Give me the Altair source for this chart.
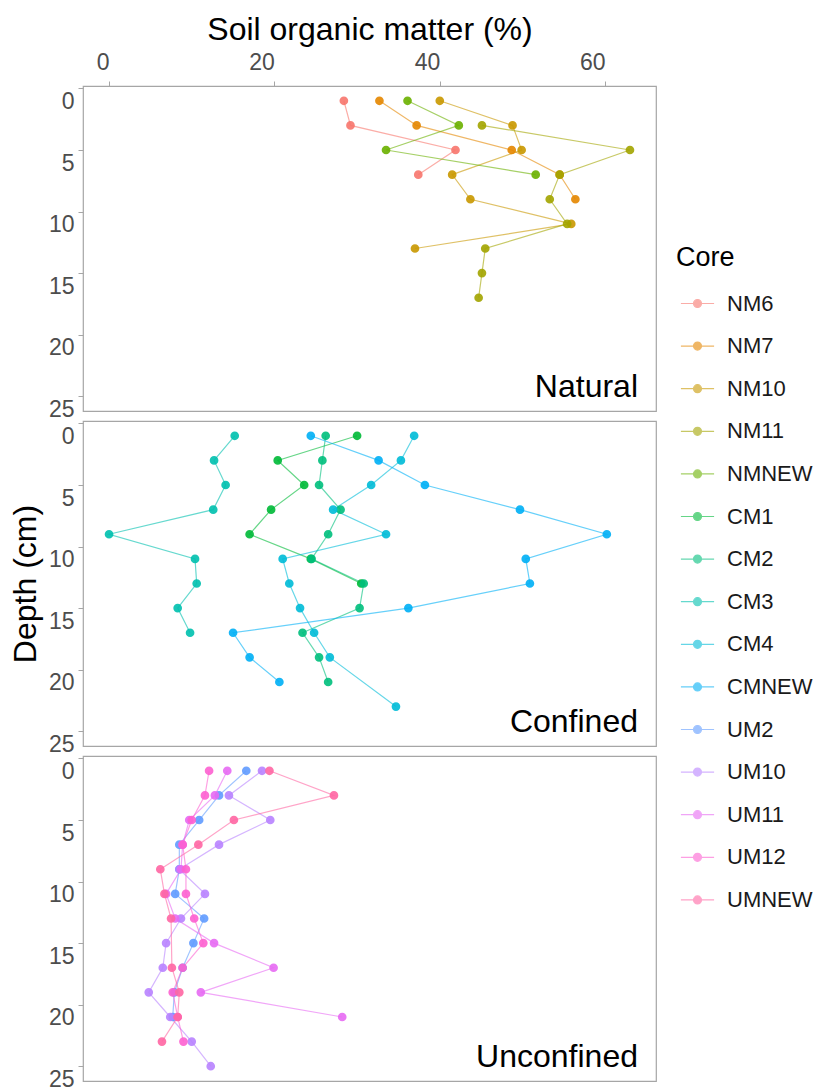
import altair as alt
import pandas as pd

# ---- data ----
cores = ["NM6", "NM7", "NM10", "NM11", "NMNEW",
         "CM1", "CM2", "CM3", "CM4", "CMNEW",
         "UM2", "UM10", "UM11", "UM12", "UMNEW"]
palette = ["#F8766D", "#E58700", "#C99800", "#A3A500", "#6BB100",
           "#00BA38", "#00BF7D", "#00C0AF", "#00BCD8", "#00B0F6",
           "#619CFF", "#B983FF", "#E76BF3", "#FD61D1", "#FF67A4"]
settings = ["Natural", "Confined", "Unconfined"]

NM6_depth = [1, 3, 5, 7]
NM6_som = [28.4, 29.2, 41.9, 37.4]
NM7_depth = [1, 3, 5, 7, 9]
NM7_som = [32.7, 37.2, 48.7, 54.5, 56.4]
NM10_depth = [1, 3, 5, 7, 9, 11, 13]
NM10_som = [40.0, 48.8, 49.9, 41.5, 43.7, 55.9, 37.0]
NM11_depth = [3, 5, 7, 9, 11, 13, 15, 17]
NM11_som = [45.1, 63.0, 54.5, 53.3, 55.4, 45.5, 45.1, 44.7]
NMNEW_depth = [1, 3, 5, 7]
NMNEW_som = [36.1, 42.3, 33.5, 51.6]

CM1_depth = [1, 3, 5, 7, 9, 11, 13]
CM1_som = [30.0, 20.4, 23.6, 19.6, 17.0, 24.4, 30.5]
CM2_depth = [1, 3, 5, 7, 9, 11, 13, 15, 17, 19, 21]
CM2_som = [26.2, 25.8, 25.4, 28.0, 26.5, 24.5, 30.8, 30.3, 23.4, 25.4, 26.5]
CM3_depth = [1, 3, 5, 7, 9, 11, 13, 15, 17]
CM3_som = [15.2, 12.7, 14.1, 12.6, 0.0, 10.4, 10.6, 8.3, 9.8]
CM4_depth = [1, 3, 5, 7, 9, 11, 13, 15, 17, 19, 23]
CM4_som = [36.9, 35.3, 31.7, 27.1, 33.5, 21.0, 21.8, 23.1, 24.8, 26.7, 34.7]
CMNEW_depth = [1, 3, 5, 7, 9, 11, 13, 15, 17, 19, 21]
CMNEW_som = [24.4, 32.6, 38.2, 49.7, 60.2, 50.4, 50.9, 36.2, 15.0, 17.0, 20.6]

UM2_depth = [1, 3, 5, 7, 9, 11, 13, 15, 17, 19, 21]
UM2_som = [16.6, 13.3, 10.9, 8.5, 8.5, 8.0, 11.5, 10.2, 8.9, 7.9, 7.7]
UM10_depth = [1, 3, 5, 7, 9, 11, 13, 15, 17, 19, 21, 23, 25]
UM10_som = [18.5, 14.5, 19.5, 13.3, 8.5, 11.6, 8.7, 6.9, 6.5, 4.8, 7.4, 10.0, 12.3]
UM11_depth = [1, 3, 5, 7, 9, 11, 13, 15, 17, 19, 21]
UM11_som = [14.3, 12.8, 9.7, 8.9, 8.7, 6.9, 8.0, 12.7, 19.9, 11.1, 28.2]
UM12_depth = [1, 3, 5, 7, 9, 11, 13, 15, 17, 19, 21, 23]
UM12_som = [12.1, 11.6, 10.0, 8.9, 9.3, 9.3, 10.3, 11.4, 8.9, 7.7, 8.3, 9.0]
UMNEW_depth = [1, 3, 5, 7, 9, 11, 13, 17, 19, 21, 23]
UMNEW_som = [19.4, 27.2, 15.1, 10.8, 6.2, 6.7, 7.5, 7.6, 8.5, 8.3, 6.4]

series = {
    "NM6": (NM6_depth, NM6_som), "NM7": (NM7_depth, NM7_som),
    "NM10": (NM10_depth, NM10_som), "NM11": (NM11_depth, NM11_som),
    "NMNEW": (NMNEW_depth, NMNEW_som),
    "CM1": (CM1_depth, CM1_som), "CM2": (CM2_depth, CM2_som),
    "CM3": (CM3_depth, CM3_som), "CM4": (CM4_depth, CM4_som),
    "CMNEW": (CMNEW_depth, CMNEW_som),
    "UM2": (UM2_depth, UM2_som), "UM10": (UM10_depth, UM10_som),
    "UM11": (UM11_depth, UM11_som), "UM12": (UM12_depth, UM12_som),
    "UMNEW": (UMNEW_depth, UMNEW_som),
}
setting_of = {"N": "Natural", "C": "Confined", "U": "Unconfined"}

rows = []
for core in cores:
    d, v = series[core]
    for dd, vv in zip(d, v):
        rows.append({"Core": core, "Depth": dd, "SOM": vv,
                     "Setting": setting_of[core[0]]})
df = pd.DataFrame(rows)

# ggplot-like 5% expansion
xr = df["SOM"].max() - df["SOM"].min()
xdom = [df["SOM"].min() - 0.05 * xr, df["SOM"].max() + 0.05 * xr]
yr = df["Depth"].max() - df["Depth"].min()
ydom = [df["Depth"].min() - 0.05 * yr, df["Depth"].max() + 0.05 * yr]

FONT = "Liberation Sans"
W, H = 573, 325

sym_path = ("M-1,0H1M-0.24,0A0.24,0.24,0,1,1,0.24,0"
            "A0.24,0.24,0,1,1,-0.24,0Z")
legend = alt.Legend(title="Core", orient="none", legendX=593, legendY=159,
                    padding=0, symbolType=sym_path, symbolSize=1100,
                    symbolStrokeWidth=1.2, symbolOffset=4,
                    labelFontSize=22, titleFontSize=27, labelFont=FONT,
                    titleFont=FONT, titleFontWeight="normal", labelColor="#1a1a1a",
                    titleColor="#000000", rowPadding=13.6, labelOffset=12,
                    titlePadding=14)

cscale = alt.Scale(domain=cores, range=palette)


def panel(setting, idx):
    sub = df[df["Setting"] == setting]
    if idx == 0:
        xaxis = alt.Axis(orient="top", title="Soil organic matter (%)",
                         values=[0, 20, 40, 60], labelAlign="right",
                         labelFlush=False, labelPadding=7, titlePadding=5)
    else:
        xaxis = None
    yaxis = alt.Axis(values=[0, 5, 10, 15, 20, 25], title="Depth (cm)",
                     titleOpacity=1 if idx == 1 else 0, labelBaseline="top",
                     labelFlush=False, labelOffset=2, labelPadding=4,
                     titlePadding=6)
    base = alt.Chart(sub).encode(
        x=alt.X("SOM:Q", scale=alt.Scale(domain=xdom, nice=False, zero=False),
                axis=xaxis),
        y=alt.Y("Depth:Q", scale=alt.Scale(domain=ydom, reverse=True, nice=False,
                                           zero=False), axis=yaxis),
        order=alt.Order("Depth:Q"),
    )
    lines = base.mark_line(strokeWidth=1.2, opacity=0.6).encode(
        stroke=alt.Stroke("Core:N", scale=cscale, legend=legend),
        detail="Core:N",
    )
    pts = base.mark_point(filled=True, size=45, opacity=0.9).encode(
        fill=alt.Fill("Core:N", scale=cscale, legend=legend),
        stroke=alt.Stroke("Core:N", scale=cscale, legend=legend),
    )
    lab = alt.Chart(pd.DataFrame({"label": [setting]})).mark_text(
        align="right", baseline="alphabetic", fontSize=32, font=FONT,
        color="#000000").encode(
        x=alt.value(W - 18), y=alt.value(H - 14), text="label:N")
    return alt.layer(lines, pts, lab).properties(width=W, height=H)


chart = alt.vconcat(*[panel(s, i) for i, s in enumerate(settings)],
                    spacing=10, bounds="flush").resolve_scale(
    stroke="shared", fill="shared").properties(
    padding={"top": 4, "left": 0, "right": 0, "bottom": 0}
).configure_view(
    stroke="#A6A6A6", strokeWidth=1.2
).configure_axis(
    grid=False, domain=False, tickColor="#A6A6A6", tickSize=5,
    labelFont=FONT, titleFont=FONT, labelFontSize=23, titleFontSize=32,
    labelColor="#4D4D4D", titleColor="#000000", titleFontWeight="normal",
)

chart.save("out.html", embed_options={"renderer": "svg", "actions": False})
